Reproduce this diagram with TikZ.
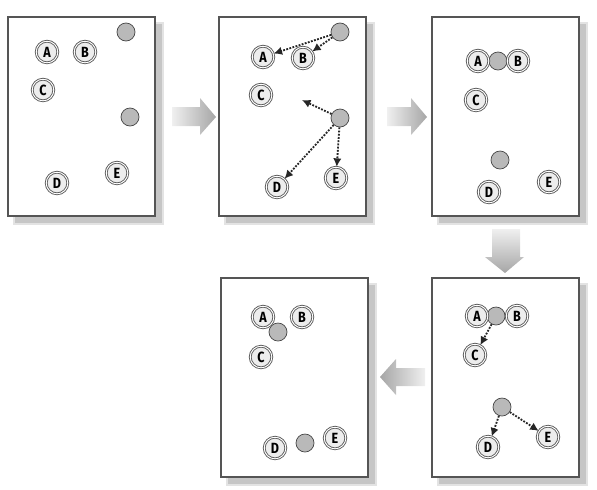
\documentclass[tikz,border=0pt]{standalone}
\usepackage{fontspec}
\setsansfont{Fira Sans}[FakeStretch=0.85]
\usepackage{tikz}
\usetikzlibrary{arrows.meta,shapes}
\definecolor{frameGray}{RGB}{85,85,85}
\begin{document}
\begin{tikzpicture}[x=0.025cm,y=-0.025cm,
    panel/.style={draw=frameGray,line width=0.8pt,fill=white},
    shade box/.style={fill=gray!45},
    datapt/.style={circle,draw=frameGray,line width=0.6pt,double=white,double distance=0.7pt,
      fill=gray!14,minimum size=0.54cm,inner sep=0pt,font=\sffamily\bfseries\fontsize{10.5}{10.5}\selectfont},
    centroid/.style={circle,draw=gray!55!black,line width=0.5pt,fill=gray!55,minimum size=0.45cm,inner sep=0pt},
    guess/.style={densely dotted,line width=1.3pt,black!85,-{Latex[length=6pt,width=6pt]}}]
  \useasboundingbox (0,0) rectangle (597,489);
  % Panel 1: start
  \begin{scope}[shift={(8,17)}]
    \fill[gray!22] (5,5) rectangle (156,208);
    \fill[shade box] (7,7) rectangle (154,206);
    \draw[panel] (0,0) rectangle (147,199);
    \node[datapt] (a1) at (39,35) {A};
    \node[datapt] (b1) at (77,35) {B};
    \node[datapt] (c1) at (35,73) {C};
    \node[datapt] (d1) at (49,166) {D};
    \node[datapt] (e1) at (109,156) {E};
    \node[centroid] (m11) at (118,15) {};
    \node[centroid] (m12) at (122,100) {};
  \end{scope}
  % Panel 2: assign to nearest
  \begin{scope}[shift={(219,17)}]
    \fill[gray!22] (5,5) rectangle (156,208);
    \fill[shade box] (7,7) rectangle (154,206);
    \draw[panel] (0,0) rectangle (147,199);
    \node[datapt] (a2) at (44,40) {A};
    \node[datapt] (b2) at (84,41) {B};
    \node[datapt] (c2) at (42,78) {C};
    \node[datapt] (d2) at (58,170) {D};
    \node[datapt] (e2) at (117,161) {E};
    \node[centroid] (m21) at (121,15) {};
    \node[centroid] (m22) at (121,101) {};
    \coordinate (t2) at (83,83);
    \draw[guess] (m21) -- (a2);
    \draw[guess] (m21) -- (b2);
    \draw[guess] (m22) -- (t2);
    \draw[guess] (m22) -- (d2);
    \draw[guess] (m22) -- (e2);
  \end{scope}
  % Panel 3: move centres
  \begin{scope}[shift={(432,17)}]
    \fill[gray!22] (5,5) rectangle (156,208);
    \fill[shade box] (7,7) rectangle (154,206);
    \draw[panel] (0,0) rectangle (147,199);
    \node[centroid] (m31) at (66,44) {};
    \node[centroid] (m32) at (68,143) {};
    \node[datapt] (a3) at (46,44) {A};
    \node[datapt] (b3) at (86,44) {B};
    \node[datapt] (c3) at (44,83) {C};
    \node[datapt] (d3) at (57,175) {D};
    \node[datapt] (e3) at (117,165) {E};
  \end{scope}
  % Panel 4: reassign
  \begin{scope}[shift={(432,278)}]
    \fill[gray!22] (5,5) rectangle (156,208);
    \fill[shade box] (7,7) rectangle (154,206);
    \draw[panel] (0,0) rectangle (147,199);
    \node[centroid] (m41) at (64,38) {};
    \node[centroid] (m42) at (70,129) {};
    \node[datapt] (a4) at (45,38) {A};
    \node[datapt] (b4) at (85,38) {B};
    \node[datapt] (c4) at (43,77) {C};
    \node[datapt] (d4) at (56,169) {D};
    \node[datapt] (e4) at (116,159) {E};
    \draw[guess] (m41) -- (c4);
    \draw[guess] (m42) -- (d4);
    \draw[guess] (m42) -- (e4);
  \end{scope}
  % Panel 5: final centres
  \begin{scope}[shift={(221,278)}]
    \fill[gray!22] (5,5) rectangle (156,208);
    \fill[shade box] (7,7) rectangle (154,206);
    \draw[panel] (0,0) rectangle (147,199);
    \node[datapt] (a5) at (42,39) {A};
    \node[datapt] (b5) at (81,39) {B};
    \node[datapt] (c5) at (40,79) {C};
    \node[datapt] (d5) at (54,170) {D};
    \node[datapt] (e5) at (114,160) {E};
    \node[centroid] (m51) at (57,54) {};
    \node[centroid] (m52) at (84,165) {};
  \end{scope}
  % Big arrows between panels
  \shade[left color=gray!12,right color=gray!70]
    (172,107) -- (200,107) -- (200,98) -- (216,117) -- (200,135) -- (200,126) -- (172,126) -- cycle;
  \shade[left color=gray!12,right color=gray!70]
    (387,107) -- (411,107) -- (411,98) -- (427,117) -- (411,135) -- (411,126) -- (387,126) -- cycle;
  \shade[top color=gray!12,bottom color=gray!70]
    (492,229) -- (520,229) -- (520,257) -- (524,257) -- (505,273) -- (485,257) -- (492,257) -- cycle;
  \shade[left color=gray!70,right color=gray!12]
    (425,368) -- (396,368) -- (396,359) -- (380,377) -- (396,395) -- (396,386) -- (425,386) -- cycle;
\end{tikzpicture}
\end{document}
